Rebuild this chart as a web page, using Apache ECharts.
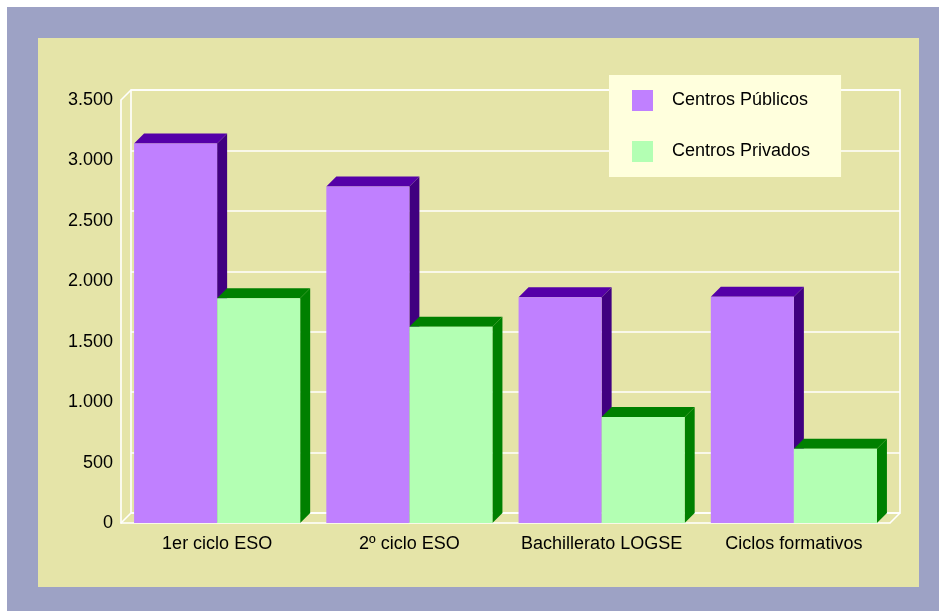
<!DOCTYPE html>
<html>
<head>
<meta charset="utf-8">
<title>Centros Públicos / Centros Privados</title>
<script src="https://cdn.jsdelivr.net/npm/echarts@6/dist/echarts.min.js"></script>
<style>
  html, body { margin: 0; padding: 0; background: #ffffff; }
  #frame { position: absolute; left: 7px; top: 7px; width: 932px; height: 604px; background: #9da2c5; }
  #panel { position: absolute; left: 38px; top: 38px; width: 881px; height: 549px; background: #e5e4a8; }
  #main { position: absolute; left: 0; top: 0; width: 939px; height: 611px; }
</style>
</head>
<body>
<div id="frame"></div>
<div id="panel"></div>
<div id="main"></div>
<script>
  // datos
  var categories = ['1er ciclo ESO', '2º ciclo ESO', 'Bachillerato LOGSE', 'Ciclos formativos'];
  var publicos = [3140, 2785, 1868, 1873];
  var privados = [1860, 1624, 878, 615];
  var seriesNames = ['Centros Públicos', 'Centros Privados'];
  var yTicks = [0, 500, 1000, 1500, 2000, 2500, 3000, 3500];

  // plano frontal y profundidad del efecto 3D
  var FRONT = { left: 121, right: 49, top: 100, bottom: 88 };
  var DEPTH = 10;
  var BAR_RATIO = 0.432;
  var W = 939, H = 611;
  var FONT = '"Liberation Sans", Arial, sans-serif';
  var LINE_W = 1.6;

  function miles(v) {
    return String(v).replace(/\B(?=(\d{3})+(?!\d))/g, '.');
  }

  // barra con cara frontal, tapa y lateral
  function barRenderer(side, colors) {
    return function (params, api) {
      var idx = api.value(0);
      var base = api.coord([idx, 0]);
      var peak = api.coord([idx, api.value(1)]);
      var w = api.size([1, 0])[0] * BAR_RATIO;
      var x0 = side === 0 ? base[0] - w : base[0];
      var x1 = x0 + w;
      var yb = base[1], yt = peak[1];
      return {
        type: 'group',
        children: [
          {
            type: 'polygon',
            shape: { points: [[x1, yt], [x1 + DEPTH, yt - DEPTH], [x1 + DEPTH, yb - DEPTH], [x1, yb]] },
            style: { fill: colors.side }
          },
          {
            type: 'polygon',
            shape: { points: [[x0, yt], [x0 + DEPTH, yt - DEPTH], [x1 + DEPTH, yt - DEPTH], [x1, yt]] },
            style: { fill: colors.top }
          },
          {
            type: 'rect',
            shape: { x: x0, y: yt, width: w, height: yb - yt },
            style: { fill: colors.front }
          }
        ]
      };
    };
  }

  var pubColors = { front: '#c080ff', top: '#5500a8', side: '#400080' };
  var privColors = { front: '#b3ffb3', top: '#008000', side: '#008000' };

  var fx0 = FRONT.left, fx1 = W - FRONT.right;
  var fy0 = FRONT.top, fy1 = H - FRONT.bottom;
  var lineStyle = { stroke: '#ffffff', lineWidth: LINE_W };

  var myChart = echarts.init(document.getElementById('main'), null, { renderer: 'canvas' });
  myChart.setOption({
    animation: false,
    backgroundColor: 'transparent',
    textStyle: { fontFamily: FONT },
    legend: {
      data: seriesNames,
      orient: 'vertical',
      left: 609,
      top: 75,
      padding: [15, 31, 15, 23],
      itemGap: 30,
      itemWidth: 21,
      itemHeight: 21,
      icon: 'rect',
      backgroundColor: '#ffffdd',
      textStyle: { fontSize: 18, color: '#000', fontFamily: FONT, padding: [0, 0, 0, 14] }
    },
    grid: [
      // pared del fondo
      {
        left: FRONT.left + DEPTH, right: FRONT.right - DEPTH,
        top: FRONT.top - DEPTH, bottom: FRONT.bottom + DEPTH,
        show: true, borderColor: '#ffffff', borderWidth: LINE_W, backgroundColor: 'transparent'
      },
      // plano frontal
      { left: FRONT.left, right: FRONT.right, top: FRONT.top, bottom: FRONT.bottom }
    ],
    xAxis: [
      { type: 'category', gridIndex: 0, data: categories, show: false },
      {
        type: 'category', gridIndex: 1, data: categories,
        axisLine: { show: true, lineStyle: { color: '#ffffff', width: LINE_W } },
        axisTick: { show: false },
        axisLabel: { color: '#000', fontSize: 18, margin: 12, fontFamily: FONT, interval: 0 }
      }
    ],
    yAxis: [
      {
        type: 'value', gridIndex: 0, min: yTicks[0], max: yTicks[yTicks.length - 1], interval: 500,
        axisLine: { show: false }, axisTick: { show: false }, axisLabel: { show: false },
        splitLine: { show: true, lineStyle: { color: '#ffffff', width: LINE_W } }
      },
      {
        type: 'value', gridIndex: 1, min: yTicks[0], max: yTicks[yTicks.length - 1], interval: 500,
        axisLine: { show: true, lineStyle: { color: '#ffffff', width: LINE_W } },
        axisTick: { show: false },
        splitLine: { show: false },
        axisLabel: { color: '#000', fontSize: 18, margin: 8, fontFamily: FONT, formatter: miles }
      }
    ],
    // diagonales que unen el plano frontal con el fondo
    graphic: [
      { type: 'line', shape: { x1: fx0, y1: fy0, x2: fx0 + DEPTH, y2: fy0 - DEPTH }, style: lineStyle },
      { type: 'line', shape: { x1: fx0, y1: fy1, x2: fx0 + DEPTH, y2: fy1 - DEPTH }, style: lineStyle },
      { type: 'line', shape: { x1: fx1, y1: fy1, x2: fx1 + DEPTH, y2: fy1 - DEPTH }, style: lineStyle }
    ],
    series: [
      {
        name: seriesNames[0], type: 'custom', xAxisIndex: 1, yAxisIndex: 1,
        itemStyle: { color: pubColors.front },
        renderItem: barRenderer(0, pubColors),
        encode: { x: 0, y: 1 },
        data: publicos.map(function (v, i) { return [i, v]; }),
        z: 3
      },
      {
        name: seriesNames[1], type: 'custom', xAxisIndex: 1, yAxisIndex: 1,
        itemStyle: { color: privColors.front },
        renderItem: barRenderer(1, privColors),
        encode: { x: 0, y: 1 },
        data: privados.map(function (v, i) { return [i, v]; }),
        z: 4
      }
    ]
  });
  window.addEventListener('resize', function () { myChart.resize(); });
</script>
</body>
</html>
